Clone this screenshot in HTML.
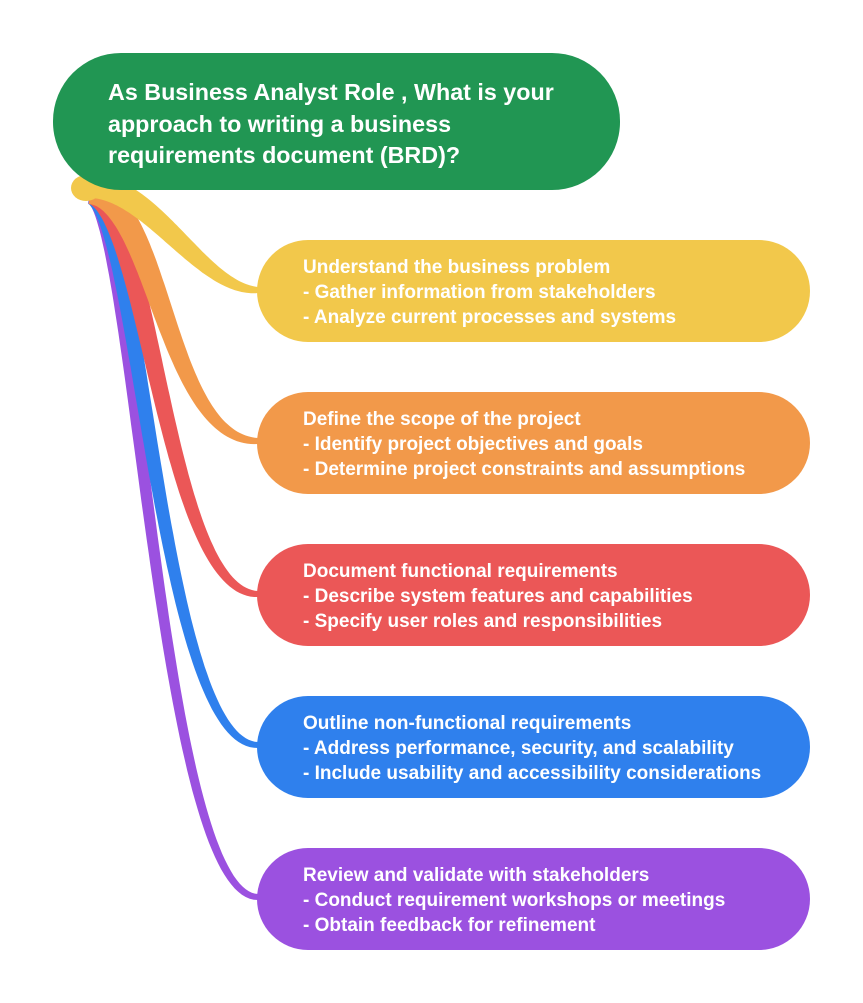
<!DOCTYPE html>
<html><head><meta charset="utf-8"><style>
body{margin:0;width:863px;height:1003px;background:#fff;position:relative;overflow:hidden;font-family:"Liberation Sans",sans-serif}
.n{position:absolute;left:257px;width:553px;height:102px;border-radius:51px;color:#fff;font-weight:bold;font-size:19px;line-height:25px;box-sizing:border-box;padding:15px 0 0 46px;white-space:nowrap}
svg{position:absolute;left:0;top:0}
</style></head><body>
<svg id="s" width="863" height="1003"></svg>
<script>
var br=[
 ["#9B51E0",[90,196],[135,210],[160,897],[258,897],13],
 ["#2F80ED",[90,196],[140,208],[160,745],[258,745],16],
 ["#EB5757",[90,194],[150,203],[165,594],[258,594],20],
 ["#F2994A",[90,192],[160,198],[165,441],[258,441],24],
 ["#F2C84B",[85,186],[150,182],[200,290],[258,290],24]
];
var s=document.getElementById('s'),h='';
function pt(a,b,c,d,t){var u=1-t;return u*u*u*a+3*u*u*t*b+3*u*t*t*c+t*t*t*d;}
function dr(a,b,c,d,t){var u=1-t;return 3*u*u*(b-a)+6*u*t*(c-b)+3*t*t*(d-c);}
br.forEach(function(B){var L=[],R=[];for(var i=0;i<=80;i++){var t=i/80;
var x=pt(B[1][0],B[2][0],B[3][0],B[4][0],t),y=pt(B[1][1],B[2][1],B[3][1],B[4][1],t);
var dx=dr(B[1][0],B[2][0],B[3][0],B[4][0],t),dy=dr(B[1][1],B[2][1],B[3][1],B[4][1],t),m=Math.hypot(dx,dy)||1;
var w=(6+(B[5]-6)*(1-t*t))/2;L.push((x-dy/m*w).toFixed(1)+','+(y+dx/m*w).toFixed(1));R.unshift((x+dy/m*w).toFixed(1)+','+(y-dx/m*w).toFixed(1));}
h+='<polygon fill="'+B[0]+'" points="'+L.concat(R).join(' ')+'"/>';});
h+='<ellipse cx="86" cy="188" rx="15" ry="13" fill="#F2C84B"/>';
s.innerHTML=h;
</script>
<div style="position:absolute;left:53px;top:53px;width:567px;height:137px;border-radius:68px;background:#219653;color:#fff;font-weight:bold;font-size:23.3px;line-height:31.5px;padding:24px 0 0 55px;box-sizing:border-box">As Business Analyst Role , What is your<br>approach to writing a business<br>requirements document (BRD)?</div>
<div class="n" style="top:240px;background:#F2C84B">Understand the business problem<br>- Gather information from stakeholders<br>- Analyze current processes and systems</div>
<div class="n" style="top:392px;background:#F2994A">Define the scope of the project<br>- Identify project objectives and goals<br>- Determine project constraints and assumptions</div>
<div class="n" style="top:544px;background:#EB5757">Document functional requirements<br>- Describe system features and capabilities<br>- Specify user roles and responsibilities</div>
<div class="n" style="top:696px;background:#2F80ED">Outline non-functional requirements<br>- Address performance, security, and scalability<br>- Include usability and accessibility considerations</div>
<div class="n" style="top:848px;background:#9B51E0">Review and validate with stakeholders<br>- Conduct requirement workshops or meetings<br>- Obtain feedback for refinement</div>
</body></html>
